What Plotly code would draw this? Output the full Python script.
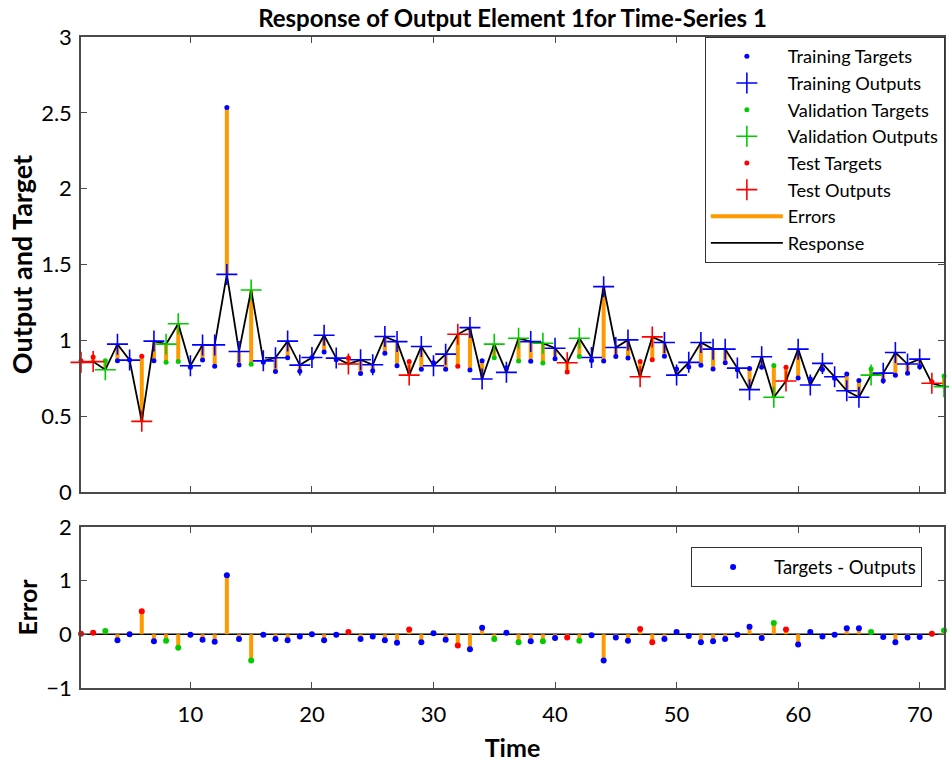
import plotly.graph_objects as go

# ---------------- data ----------------
time = list(range(1, 73))

outputs = [0.855, 0.86, 0.806, 0.975, 0.87, 0.466, 0.995, 0.975, 1.11, 0.833,
           0.97, 0.97, 1.435, 0.927, 1.332, 0.865, 0.885, 0.995, 0.837, 0.887,
           1.034, 0.883, 0.844, 0.872, 0.839, 1.025, 0.992, 0.771, 0.96, 0.833,
           0.909, 1.04, 1.084, 0.745, 0.975, 0.789, 1.014, 0.992, 0.981, 0.948,
           0.852, 1.014, 0.887, 1.354, 0.953, 1.003, 0.76, 1.023, 0.986, 0.771,
           0.855, 0.986, 0.942, 0.942, 0.817, 0.675, 0.892, 0.625, 0.732, 0.942,
           0.706, 0.848, 0.76, 0.668, 0.625, 0.771, 0.784, 0.92, 0.844, 0.876,
           0.717, 0.695]

errors = [0.01, 0.03, 0.06, -0.11, 0.0, 0.43, -0.13, -0.12, -0.25, -0.01,
          -0.10, -0.14, 1.10, -0.09, -0.49, -0.01, -0.09, -0.11, -0.04, 0.0,
          -0.11, -0.01, 0.04, -0.09, -0.04, -0.11, -0.16, 0.09, -0.15, 0.02,
          -0.10, -0.21, -0.28, 0.12, -0.09, 0.03, -0.15, -0.13, -0.13, -0.07,
          -0.06, -0.12, -0.02, -0.49, -0.06, -0.12, 0.10, -0.15, -0.09, 0.04,
          -0.03, -0.15, -0.13, -0.09, -0.01, 0.14, -0.07, 0.21, 0.09, -0.19,
          0.04, -0.04, -0.01, 0.11, 0.11, 0.04, -0.05, -0.15, -0.06, -0.05,
          0.01, 0.07]

test_steps = [1, 2, 6, 23, 28, 32, 41, 47, 48, 59, 71]
val_steps = [3, 8, 9, 15, 35, 37, 39, 42, 58, 66, 72]

targets = [o + e for o, e in zip(outputs, errors)]

# ---------------- style ----------------
FONT = "Lato, Carlito, Calibri, sans-serif"
AX = "#4a4a4a"
ORANGE = "#FF9900"
COLORS = {"train": "#0000FF", "val": "#00CC00", "test": "#FF0000"}
NAMES = {"train": "Training", "val": "Validation", "test": "Test"}


def set_of(t):
    if t in test_steps:
        return "test"
    if t in val_steps:
        return "val"
    return "train"


groups = {k: [t for t in time if set_of(t) == k] for k in ("train", "val", "test")}

fig = go.Figure()

# errors in top panel
ex, ey = [], []
for t, tg, o in zip(time, targets, outputs):
    ex += [t, t, None]
    ey += [tg, o, None]
fig.add_trace(go.Scatter(x=ex, y=ey, mode="lines", line=dict(color=ORANGE, width=4),
                         name="Errors", legendrank=7, xaxis="x", yaxis="y"))
# response line
fig.add_trace(go.Scatter(x=time, y=outputs, mode="lines", line=dict(color="black", width=1.8),
                         name="Response", legendrank=8, xaxis="x", yaxis="y"))

rank = 1
for k in ("train", "val", "test"):
    ts = groups[k]
    fig.add_trace(go.Scatter(x=ts, y=[targets[t - 1] for t in ts], mode="markers",
                             marker=dict(color=COLORS[k], size=5),
                             name=NAMES[k] + " Targets", legendrank=rank,
                             cliponaxis=False, xaxis="x", yaxis="y"))
    fig.add_trace(go.Scatter(x=ts, y=[outputs[t - 1] for t in ts], mode="markers",
                             marker=dict(symbol="cross-thin", size=15,
                                         line=dict(color=COLORS[k], width=1.6)),
                             name=NAMES[k] + " Outputs", legendrank=rank + 1,
                             cliponaxis=False, xaxis="x", yaxis="y"))
    rank += 2

# bottom panel: zero line, stems, dots
fig.add_trace(go.Scatter(x=[time[0], time[-1]], y=[0, 0], mode="lines",
                         line=dict(color="black", width=1.5), showlegend=False,
                         xaxis="x2", yaxis="y2"))
sx, sy = [], []
for t, e in zip(time, errors):
    sx += [t, t, None]
    sy += [0, e, None]
fig.add_trace(go.Scatter(x=sx, y=sy, mode="lines", line=dict(color=ORANGE, width=4),
                         showlegend=False, xaxis="x2", yaxis="y2"))
for k in ("train", "val", "test"):
    ts = groups[k]
    fig.add_trace(go.Scatter(x=ts, y=[errors[t - 1] for t in ts], mode="markers",
                             marker=dict(color=COLORS[k], size=6),
                             name="Targets - Outputs", showlegend=(k == "train"),
                             legend="legend2", cliponaxis=False,
                             xaxis="x2", yaxis="y2"))

axis_common = dict(showline=True, linecolor=AX, linewidth=1.5, mirror="ticks",
                   ticks="inside", ticklen=6, tickwidth=1.2, tickcolor=AX,
                   showgrid=False, zeroline=False,
                   tickfont=dict(family=FONT, size=22, color="black"))

fig.update_layout(
    width=949, height=762,
    margin=dict(l=81, r=3, t=37, b=72),
    paper_bgcolor="white", plot_bgcolor="white",
    font=dict(family=FONT, color="black"),
    title=dict(text="<b>Response of Output Element 1for Time-Series 1</b>",
               font=dict(family=FONT, size=24, color="black"),
               x=0.5, xref="paper", xanchor="center", y=0.976, yanchor="middle"),
    xaxis=dict(domain=[0, 1], range=[1, 72], tick0=0, dtick=10, anchor="y",
               showticklabels=False, **axis_common),
    yaxis=dict(domain=[0.301, 1], range=[0, 3], dtick=0.5, anchor="x",
               ticklabelstandoff=3,
               title=dict(text="<b>Output and Target</b>", font=dict(family=FONT, size=27),
                          standoff=1),
               **axis_common),
    xaxis2=dict(domain=[0, 1], range=[1, 72], tick0=0, dtick=10, anchor="y2",
                ticklabelstandoff=6,
                title=dict(text="<b>Time</b>", font=dict(family=FONT, size=25), standoff=14),
                **axis_common),
    yaxis2=dict(domain=[0, 0.2476], range=[-1, 2], dtick=1, anchor="x2",
                ticklabelstandoff=3,
                title=dict(text="<b>Error</b>", font=dict(family=FONT, size=25), standoff=2),
                **axis_common),
    legend=dict(x=1.001, xanchor="right", y=1.0, yanchor="top",
                bgcolor="white", bordercolor="#333333", borderwidth=1,
                font=dict(family=FONT, size=18.2, color="black"),
                itemwidth=72, tracegroupgap=0),
    legend2=dict(x=0.9746, xanchor="right", y=0.216, yanchor="top",
                 bgcolor="white", bordercolor="#333333", borderwidth=1,
                 font=dict(family=FONT, size=18.5, color="black"),
                 itemwidth=72),
    showlegend=True,
)

fig.write_html("out.html")
